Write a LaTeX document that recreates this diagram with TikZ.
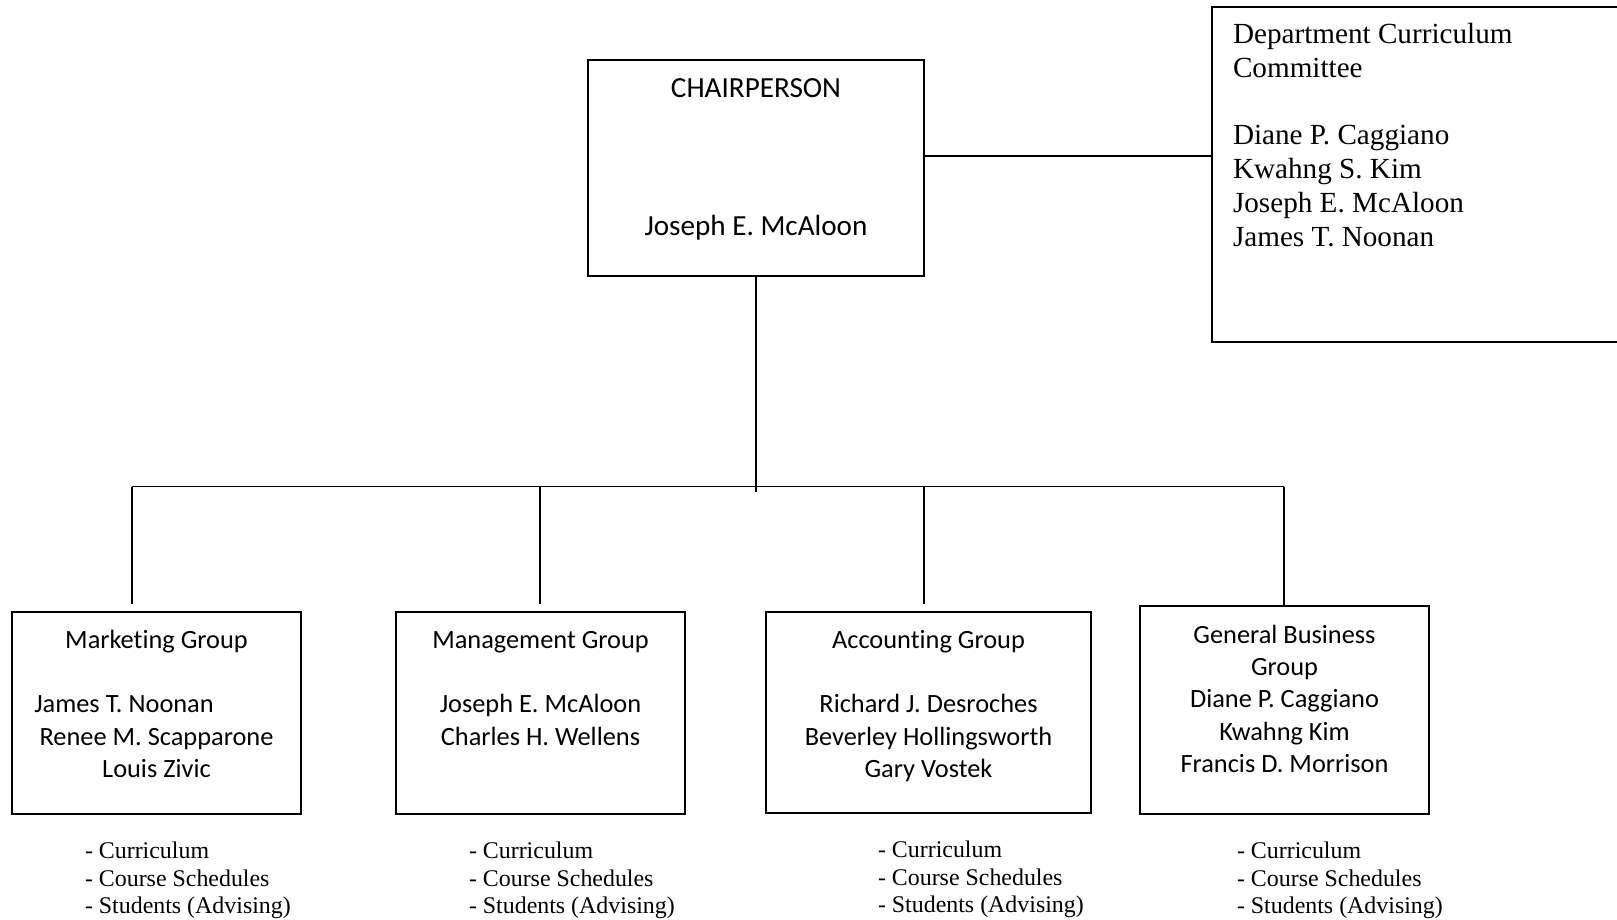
\documentclass[tikz,border=0pt]{standalone}
\usepackage{fontspec}
\setmainfont{Liberation Serif}
\newfontfamily\calibri[Ligatures=NoCommon]{Carlito}
\usepackage{tikz}
\usetikzlibrary{positioning}

\begin{document}
\begin{tikzpicture}[
  line width=0.75pt,
  box/.style={draw, rectangle, inner sep=0pt},
  chairtext/.style={align=center, inner sep=0pt,
    font=\calibri\fontsize{16.6}{20.3}\selectfont},
  grouptext/.style={align=center, inner sep=0pt,
    font=\calibri\fontsize{15}{18.4}\selectfont},
  cmttext/.style={align=left, inner sep=0pt,
    font=\fontsize{16.6}{19.3}\selectfont},
  dutytext/.style={align=left, inner sep=0pt,
    font=\fontsize{13.6}{15.8}\selectfont}
]
\useasboundingbox (0,0) rectangle (32.34,-18.38);

% top level
\node[box, minimum width=6.72cm, minimum height=4.32cm] (chair) at (15.12,-3.36) {};
\node[chairtext, below=0.26cm of chair.north] (chairname)
{\strut CHAIRPERSON\\[57.7pt]Joseph E. McAloon};

\node[box, minimum width=8.76cm, minimum height=6.70cm] (cmt) at (28.62,-3.49) {};
\node[cmttext, below right=0.25cm and 0.42cm of cmt.north west] (cmtnames)
{\strut Department Curriculum\\Committee\\[19.3pt]Diane P. Caggiano\\Kwahng S. Kim\\
Joseph E. McAloon\\James T. Noonan};

\draw ([yshift=0.24cm]chair.east) -- ([yshift=0.24cm]chair.east -| cmt.west);

% groups
\node[box, minimum width=5.78cm, minimum height=4.04cm] (mkt) at (3.13,-14.26) {};
\node[box, minimum width=5.78cm, minimum height=4.04cm] (mgt) at (10.81,-14.26) {};
\node[box, minimum width=6.50cm, minimum height=4.02cm] (acc) at (18.57,-14.25) {};
\node[box, minimum width=5.78cm, minimum height=4.16cm] (gen) at (25.69,-14.20) {};

\node[grouptext, below=0.27cm of mkt.north] (mkttxt)
{\strut Marketing Group\\[18.4pt]James T. Noonan\hbox to 1.3cm{}\\Renee M. Scapparone\\Louis Zivic};
\node[grouptext, below=0.27cm of mgt.north] (mgttxt)
{\strut Management Group\\[18.4pt]Joseph E. McAloon\\Charles H. Wellens};
\node[grouptext, below=0.27cm of acc.north] (acctxt)
{\strut Accounting Group\\[18.4pt]Richard J. Desroches\\Beverley Hollingsworth\\Gary Vostek};
\node[grouptext, below=0.29cm of gen.north] (gentxt)
{\strut General Business\\Group\\Diane P. Caggiano\\Kwahng Kim\\Francis D. Morrison};

\node[dutytext, below right=0.47cm and 1.46cm of mkt.south west] (mktduty)
{\strut - Curriculum\\- Course Schedules\\- Students (Advising)};
\node[dutytext, below right=0.47cm and 1.46cm of mgt.south west] (mgtduty)
{\strut - Curriculum\\- Course Schedules\\- Students (Advising)};
\node[dutytext, below right=0.47cm and 2.24cm of acc.south west] (accduty)
{\strut - Curriculum\\- Course Schedules\\- Students (Advising)};
\node[dutytext, below right=0.47cm and 1.94cm of gen.south west] (genduty)
{\strut - Curriculum\\- Course Schedules\\- Students (Advising)};

% connectors
\coordinate (b1) at (2.64,-9.73);
\coordinate (b2) at (10.80,-9.73);
\coordinate (b3) at (18.48,-9.73);
\coordinate (b4) at (25.68,-9.73);

\draw (chair.south) -- ([yshift=-0.1cm]chair.south |- b1);
\draw (b1) -- (b4);
\draw (b1) -- ([yshift=0.14cm]mkt.north -| b1);
\draw (b2) -- ([yshift=0.14cm]mgt.north -| b2);
\draw (b3) -- ([yshift=0.14cm]acc.north -| b3);
\draw (b4) -- (gen.north -| b4);

\end{tikzpicture}
\end{document}
